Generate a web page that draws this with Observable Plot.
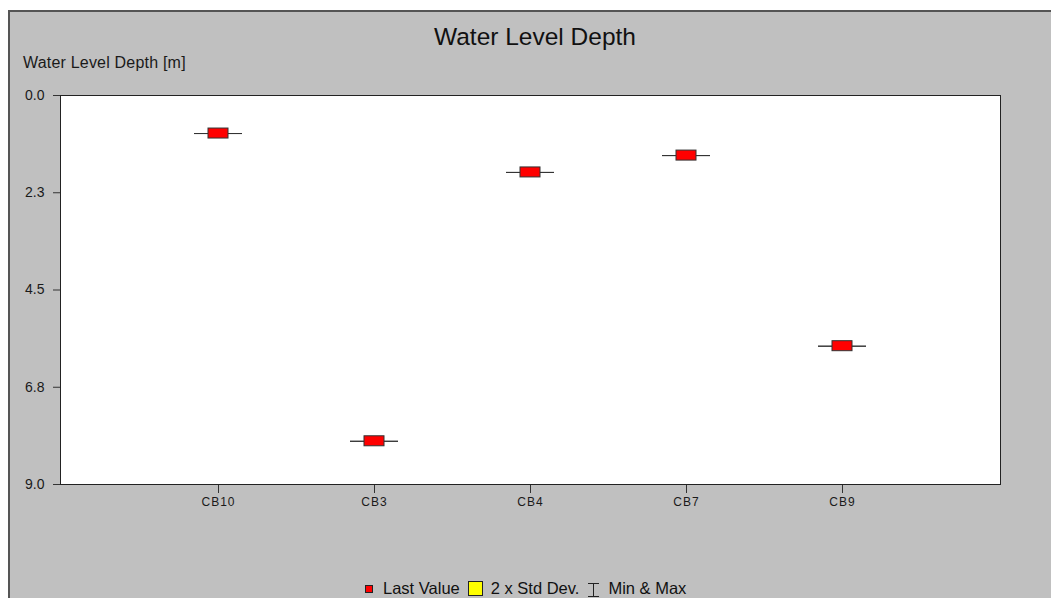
<!DOCTYPE html>
<html>
<head>
<meta charset="utf-8">
<script src="https://cdn.jsdelivr.net/npm/d3@7"></script>
<script src="https://cdn.jsdelivr.net/npm/@observablehq/plot@0.6"></script>
<style>
  html, body { margin: 0; padding: 0; background: #ffffff; width: 1051px; height: 598px; overflow: hidden; }
  body { position: relative; font-family: "Liberation Sans", Arial, sans-serif; }
  #panel { position: absolute; left: 8px; top: 10px; width: 1100px; height: 700px; background: #c0c0c0; border-left: 2px solid #555; border-top: 2px solid #555; }
  #title { position: absolute; left: 0; width: 1070px; top: 23px; text-align: center; font-size: 24.5px; color: #111; }
  #ylabel { position: absolute; left: 23px; top: 54px; font-size: 16px; color: #1a1a1a; letter-spacing: 0.2px; }
  #chart { position: absolute; left: 0; top: 0; }
  #legend { position: absolute; left: 365px; top: 578px; font-size: 16.5px; color: #111; white-space: nowrap; letter-spacing: 0px; }
  #legend span { display: inline-block; vertical-align: middle; }
</style>
</head>
<body>
<div id="panel"></div>
<div id="title">Water Level Depth</div>
<div id="ylabel">Water Level Depth [m]</div>
<div id="chart"></div>
<div id="legend"></div>
<script>
const categories = ["CB10", "CB3", "CB4", "CB7", "CB9"];
const lastValue = [0.88, 8.0, 1.78, 1.39, 5.8];
const minValue = [0.88, 8.0, 1.78, 1.39, 5.8];
const maxValue = [0.88, 8.0, 1.78, 1.39, 5.8];
const yTicks = [0, 2.25, 4.5, 6.75, 9];
const legendLabels = ["Last Value", "2 x Std Dev.", "Min & Max"];

const data = categories.map((c, i) => ({cat: c, v: lastValue[i], min: minValue[i], max: maxValue[i]}));

const chart = Plot.plot({
  width: 1051,
  height: 598,
  marginLeft: 60,
  marginRight: 51,
  marginTop: 95,
  marginBottom: 114,
  style: {background: "transparent", fontFamily: "'Liberation Sans', Arial, sans-serif", fontSize: "14px", color: "#1a1a1a"},
  x: {type: "band", domain: categories, paddingInner: 0.694, paddingOuter: 0.847, tickSize: 9, tickPadding: 4, label: null},
  y: {domain: [0, 9], reverse: true, ticks: yTicks, tickFormat: d3.format(".1f"), tickSize: 7, tickPadding: 9, label: null},
  marks: [
    Plot.frame({fill: "white", stroke: "#222", strokeWidth: 1}),
    Plot.tickY(data, {x: "cat", y: "min", stroke: "#333", strokeWidth: 1}),
    Plot.tickY(data, {x: "cat", y: "max", stroke: "#333", strokeWidth: 1}),
    Plot.barY(data, {x: "cat", y1: "v", y2: "v", insetLeft: 14, insetRight: 14, insetTop: -5, insetBottom: -5, fill: "#ff0000", stroke: "#333", strokeWidth: 1})
  ]
});
document.getElementById("chart").appendChild(chart);
d3.select(chart).selectAll('g[aria-label^="x-axis"] text').style("font-size", "12px").style("letter-spacing", "1px");
d3.select(chart).selectAll('g[aria-label^="x-axis"] line, g[aria-label^="y-axis"] line, g[aria-label^="x-axis"] path, g[aria-label^="y-axis"] path').attr("stroke", "#333");

const legend = document.getElementById("legend");
legend.innerHTML =
  `<span style="width:6px;height:6px;background:#ff0000;border:1px solid #222;margin-right:10px;"></span>` +
  `<span style="margin-right:8px;">${legendLabels[0]}</span>` +
  `<span style="width:13px;height:13px;background:#ffff00;border:1px solid #222;margin-right:8px;"></span>` +
  `<span style="margin-right:8px;">${legendLabels[1]}</span>` +
  `<span style="margin-right:8px;"><svg width="13" height="18" style="display:block"><line x1="1" x2="12" y1="3.5" y2="3.5" stroke="#222"/><line x1="6.5" x2="6.5" y1="3.5" y2="16.5" stroke="#222"/><line x1="1" x2="12" y1="16.5" y2="16.5" stroke="#222"/></svg></span>` +
  `<span>${legendLabels[2]}</span>`;
</script>
</body>
</html>
